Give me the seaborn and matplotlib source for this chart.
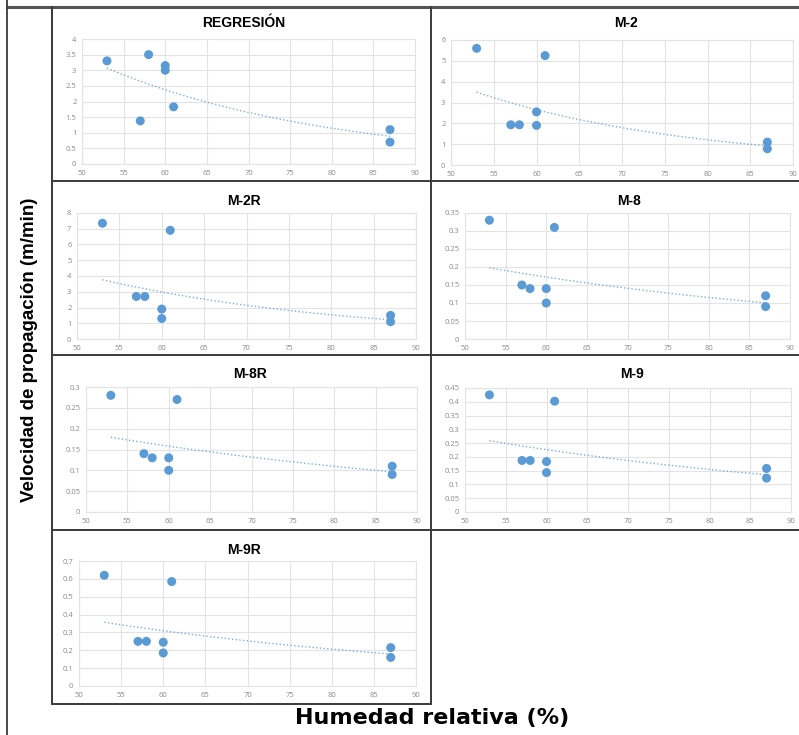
import numpy as np
import pandas as pd
import seaborn as sns
import matplotlib.pyplot as plt
from matplotlib.lines import Line2D
from matplotlib.ticker import FuncFormatter, MultipleLocator

# humedad relativa (%) common to every panel
humedad = [53, 57, 58, 60, 60, 61, 87, 87]

# velocidad de propagacion (m/min)
regresion = [3.30, 1.38, 3.50, 3.15, 3.00, 1.83, 1.10, 0.70]
m2 = [5.60, 1.93, 1.93, 2.55, 1.90, 5.25, 1.10, 0.78]
m2r = [7.35, 2.70, 2.70, 1.90, 1.30, 6.90, 1.50, 1.10]
m8 = [0.33, 0.15, 0.14, 0.14, 0.10, 0.31, 0.12, 0.09]
m8r = [0.28, 0.14, 0.13, 0.13, 0.10, 0.27, 0.11, 0.09]
m9 = [0.425, 0.187, 0.187, 0.183, 0.143, 0.402, 0.158, 0.123]
m9r = [0.62, 0.25, 0.25, 0.245, 0.185, 0.585, 0.215, 0.16]

titles = ["REGRESIÓN", "M-2", "M-2R", "M-8", "M-8R", "M-9", "M-9R"]
series = [regresion, m2, m2r, m8, m8r, m9, m9r]
y_max = [4, 6, 8, 0.35, 0.3, 0.45, 0.7]
y_step = [0.5, 1, 1, 0.05, 0.05, 0.05, 0.1]

W, H = 799, 735
# plot areas in pixels: x_left, x_right, y_top, y_bottom
boxes = [
    (82, 415, 39, 164),
    (451, 793, 40, 165),
    (77, 416, 213, 339),
    (465, 790, 213, 339),
    (86, 417, 387, 512),
    (465, 791, 388, 512),
    (79, 416, 561, 686),
]
title_pos = [(244, 23), (626, 23), (244, 201), (629, 201),
             (250, 374), (632, 374), (244, 550)]

sns.set_theme(style="white")
plt.rcParams["font.family"] = ["Liberation Sans", "DejaVu Sans"]

blue = "#5B9BD5"
fig = plt.figure(figsize=(W / 100, H / 100), dpi=100)

for i, (name, vals) in enumerate(zip(titles, series)):
    x0, x1, yt, yb = boxes[i]
    ax = fig.add_axes([x0 / W, 1 - yb / H, (x1 - x0) / W, (yb - yt) / H])
    df = pd.DataFrame({"Humedad": humedad, "Velocidad": vals})

    # exponential trend line, as in the spreadsheet
    b, a = np.polyfit(df["Humedad"], np.log(df["Velocidad"]), 1)
    xt = np.linspace(53, 87, 60)
    trend = pd.DataFrame({"Humedad": xt, "Velocidad": np.exp(a + b * xt)})
    sns.lineplot(data=trend, x="Humedad", y="Velocidad", ax=ax,
                 color=blue, lw=1, linestyle=":", alpha=0.8)
    sns.scatterplot(data=df, x="Humedad", y="Velocidad", ax=ax,
                    color=blue, s=42, edgecolor="none", zorder=3)

    ax.set_xlim(50, 90)
    ax.set_ylim(0, y_max[i])
    ax.xaxis.set_major_locator(MultipleLocator(5))
    ax.yaxis.set_major_locator(MultipleLocator(y_step[i]))
    ax.yaxis.set_major_formatter(FuncFormatter(lambda v, p: f"{v:g}"))
    ax.grid(True, color="#e3e3e3", lw=0.8)
    ax.set_axisbelow(True)
    for sp in ax.spines.values():
        sp.set_color("#e3e3e3")
        sp.set_linewidth(0.8)
    ax.tick_params(axis="both", length=0, labelsize=5.5,
                   labelcolor="#8a8a8a", pad=4)
    for lab in ax.get_xticklabels() + ax.get_yticklabels():
        lab.set_family("Open Sans")
    ax.set_xlabel("")
    ax.set_ylabel("")

    tx, ty = title_pos[i]
    fig.text(tx / W, 1 - ty / H, name, ha="center", va="center",
             fontsize=10, fontweight="bold", color="black")

# panel frames
def hline(y, xa, xb, lw=1.4, c="#3a3a3a"):
    fig.add_artist(Line2D([xa / W, xb / W], [1 - y / H, 1 - y / H],
                          color=c, lw=lw))

def vline(x, ya, yb, lw=1.4, c="#3a3a3a"):
    fig.add_artist(Line2D([x / W, x / W], [1 - ya / H, 1 - yb / H],
                          color=c, lw=lw))

hline(7, 7, 799, lw=2.2, c="#555555")
vline(7, 0, 735, lw=1.3)
vline(52, 7, 704)
vline(431, 7, 704)
hline(181, 52, 799)
hline(355, 52, 799)
hline(530, 52, 799)
hline(704, 52, 431)

fig.text(30 / W, 1 - 350 / H, "Velocidad de propagación (m/min)",
         rotation=90, ha="center", va="center", fontsize=13.5,
         fontweight="bold", color="black",
         family=["Liberation Sans", "DejaVu Sans"])
fig.text(432 / W, 1 - 718 / H, "Humedad relativa (%)", ha="center",
         va="center", fontsize=16, fontweight="bold", color="black",
         family=["DejaVu Sans"])

fig.savefig("out.png", dpi=100)
